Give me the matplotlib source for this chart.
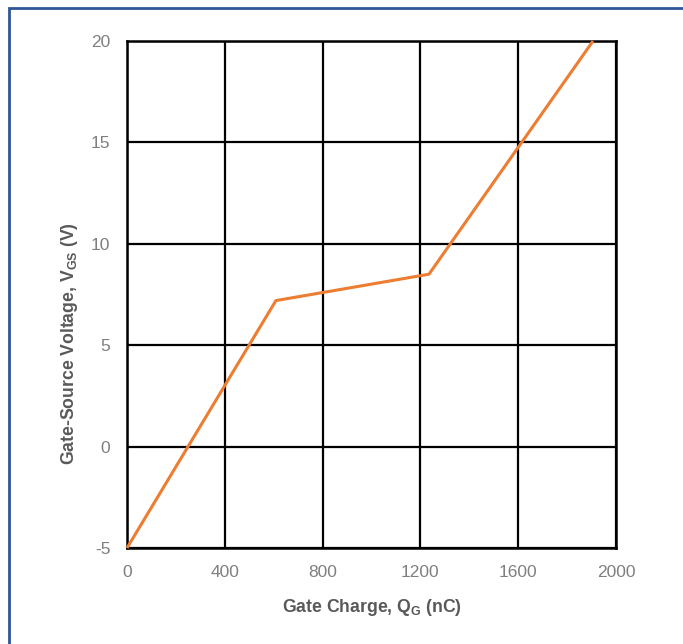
import matplotlib
matplotlib.use("Agg")
import matplotlib.pyplot as plt
from matplotlib.patches import Rectangle

gate_charge = [0, 609, 1235, 1906]
vgs = [-5, 7.2, 8.5, 20]
x_ticks = [0, 400, 800, 1200, 1600, 2000]
y_ticks = [-5, 0, 5, 10, 15, 20]

plt.rcParams['font.family'] = ['Liberation Sans', 'DejaVu Sans']
plt.rcParams['axes.unicode_minus'] = False
plt.rcParams['mathtext.fontset'] = 'custom'
plt.rcParams['mathtext.rm'] = 'Liberation Sans'
plt.rcParams['mathtext.bf'] = 'Liberation Sans:bold'
plt.rcParams['mathtext.it'] = 'Liberation Sans:italic'

fig = plt.figure(figsize=(6.83, 6.44), dpi=100)
ax = fig.add_axes([127/683, 1-548/644, (616-127)/683, (548-41)/644])

ax.plot(gate_charge, vgs, color='#ED7D31', lw=2.2, solid_capstyle='butt', zorder=3, clip_on=False)

ax.set_xlim(0, 2000)
ax.set_ylim(-5, 20)
ax.set_xticks(x_ticks)
ax.set_yticks(y_ticks)
ax.grid(True, color='black', lw=1.6)
ax.set_axisbelow(True)
for s in ax.spines.values():
    s.set_color('black')
    s.set_linewidth(1.8)
ax.tick_params(length=0, pad=12, labelsize=12.5, labelcolor='#7f7f7f')

ax.text(0.5, (548-607)/507, 'Gate Charge, Q$_\\mathbf{G}$ (nC)', transform=ax.transAxes,
        fontsize=12.7, fontweight='bold', color='#595959', ha='center', va='center')
ax.text((69-127)/489, (548-343.5)/507, 'Gate-Source Voltage, V$_\\mathbf{GS}$ (V)',
        transform=ax.transAxes, rotation=90, fontsize=12.7, fontweight='bold',
        color='#595959', ha='center', va='center')

border = Rectangle((8.5/683, -0.2), 1.5, 1.2 - 7.5/644, transform=fig.transFigure,
                   fill=False, edgecolor='#2F5597', lw=2, clip_on=False)
fig.patches.append(border)

fig.savefig('out.png', dpi=100)
